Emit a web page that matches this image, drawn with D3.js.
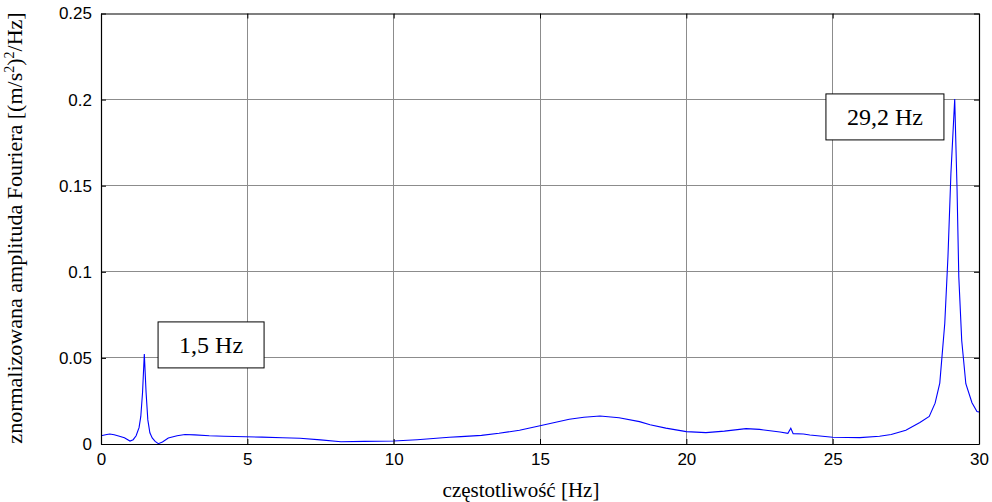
<!DOCTYPE html>
<html><head><meta charset="utf-8">
<script src="https://cdn.jsdelivr.net/npm/d3@7"></script>
<style>body{margin:0;background:#fff}</style>
</head><body>
<svg id="c" width="992" height="502"></svg>
<script>
const freq = [0,0.2,0.3,0.45,0.6,0.8,0.99,1.1,1.2,1.3,1.36,1.42,1.48,1.54,1.6,1.67,1.75,1.85,1.96,2.1,2.3,2.6,2.87,3.2,3.7,4.2,4.95,5.5,6.2,6.8,7.5,8.2,9,10,10.8,11.9,12.3,13.0,13.6,14.3,15,15.5,16,16.5,17.05,17.7,18.4,18.76,19.3,20,20.67,21.3,22.04,22.5,22.86,23.2,23.47,23.57,23.65,24.0,24.22,25,25.5,25.93,26.6,27.0,27.5,27.98,28.3,28.5,28.66,28.83,28.94,29.04,29.17,29.25,29.31,29.41,29.55,29.76,29.93,30];
const amplitude = [0.0048,0.0055,0.0058,0.0054,0.0046,0.0036,0.0017,0.0025,0.0048,0.0095,0.016,0.03,0.0523,0.03,0.014,0.0065,0.0035,0.0015,0.0002,0.0012,0.0035,0.0048,0.0055,0.0053,0.0048,0.0045,0.0042,0.0040,0.0036,0.0033,0.0024,0.0013,0.0015,0.0017,0.0025,0.0039,0.0043,0.0050,0.0062,0.0080,0.0106,0.0125,0.0144,0.0155,0.0163,0.0152,0.0130,0.0112,0.0092,0.0072,0.0066,0.0075,0.0089,0.0085,0.0077,0.0070,0.0062,0.0091,0.0060,0.0058,0.0052,0.0039,0.0038,0.0037,0.0045,0.0055,0.0080,0.0125,0.0160,0.0237,0.0354,0.070,0.109,0.157,0.2004,0.148,0.097,0.060,0.035,0.024,0.0188,0.0186];
const xTicks = [0,5,10,15,20,25,30];
const yTicks = [0,0.05,0.1,0.15,0.2,0.25];
const xTickLabels = ["0","5","10","15","20","25","30"];
const yTickLabels = ["0","0.05","0.1","0.15","0.2","0.25"];
const annotations = [{text:"1,5 Hz", fx:1.95, fy:0.0709}, {text:"29,2 Hz", fx:24.77, fy:0.2033}];

const svg = d3.select("#c");
const L=101, R=979, T=13.5, B=444;
const x = d3.scaleLinear().domain([0,30]).range([L,R]);
const y = d3.scaleLinear().domain([0,0.25]).range([B,T]);

// grid
const g = svg.append("g");
g.selectAll(".gx").data(xTicks.slice(1,-1)).enter().append("line")
  .attr("x1",d=>x(d)).attr("x2",d=>x(d)).attr("y1",T).attr("y2",B)
  .attr("stroke","#8c8c8c").attr("stroke-width",1).attr("shape-rendering","crispEdges");
g.selectAll(".gy").data(yTicks.slice(1,-1)).enter().append("line")
  .attr("x1",L).attr("x2",R).attr("y1",d=>y(d)).attr("y2",d=>y(d))
  .attr("stroke","#8c8c8c").attr("stroke-width",1).attr("shape-rendering","crispEdges");

// line
const line = d3.line().x((d,i)=>x(freq[i])).y(d=>y(d));
svg.append("path").datum(amplitude).attr("d",line)
  .attr("fill","none").attr("stroke","#0000ff").attr("stroke-width",1.1);

// axes
const fontTick = "'Liberation Sans', Arial, sans-serif";
const xAxis = d3.axisBottom(x).tickValues(xTicks).tickFormat((d,i)=>xTickLabels[i]).tickSizeInner(-5).tickSizeOuter(0).tickPadding(9);
const yAxis = d3.axisLeft(y).tickValues(yTicks).tickFormat((d,i)=>yTickLabels[i]).tickSizeInner(-5).tickSizeOuter(0).tickPadding(9);
const xTop = d3.axisTop(x).tickValues(xTicks).tickFormat("").tickSizeInner(-5).tickSizeOuter(0);
const yRight = d3.axisRight(y).tickValues(yTicks).tickFormat("").tickSizeInner(-5).tickSizeOuter(0);
function style(sel){
  sel.selectAll("path").attr("stroke","#000").attr("stroke-width",1.2);
  sel.selectAll("line").attr("stroke","#000");
  sel.selectAll("text").attr("fill","#000").style("font-family",fontTick).style("font-size","17px");
}
svg.append("g").attr("transform",`translate(0,${B})`).call(xAxis).call(style);
svg.append("g").attr("transform",`translate(${L},0)`).call(yAxis).call(style);
svg.append("g").attr("transform",`translate(0,${T})`).call(xTop).call(style);
svg.append("g").attr("transform",`translate(${R},0)`).call(yRight).call(style);

// labels
const fontSerif = "'Liberation Serif', 'Times New Roman', serif";
svg.append("text").attr("x",521).attr("y",497).attr("text-anchor","middle")
  .style("font-family",fontSerif).style("font-size","21px").text("częstotliwość [Hz]");
const yl = svg.append("text").attr("transform",`translate(22,228) rotate(-90)`).attr("text-anchor","middle")
  .style("font-family",fontSerif).style("font-size","22px");
yl.append("tspan").text("znormalizowana amplituda Fouriera [(m/s");
yl.append("tspan").attr("dy",-8).style("font-size","14px").text("2");
yl.append("tspan").attr("dy",8).text(")");
yl.append("tspan").attr("dy",-8).style("font-size","14px").text("2");
yl.append("tspan").attr("dy",8).text("/Hz]");

// annotations
annotations.forEach(a=>{
  const w = a.text.length>6 ? 118 : 106, h = 46;
  const bx = x(a.fx), by = y(a.fy);
  svg.append("rect").attr("x",bx).attr("y",by).attr("width",w).attr("height",h)
    .attr("fill","#fff").attr("stroke","#000").attr("stroke-width",1);
  svg.append("text").attr("x",bx+w/2).attr("y",by+h/2+8).attr("text-anchor","middle")
    .style("font-family",fontSerif).style("font-size","24px").text(a.text);
});
</script>
</body></html>
